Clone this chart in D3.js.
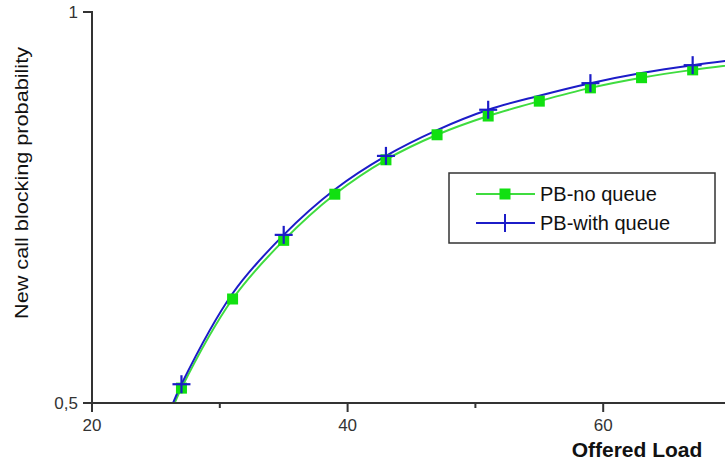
<!DOCTYPE html>
<html>
<head>
<meta charset="utf-8">
<script src="https://cdn.jsdelivr.net/npm/d3@7"></script>
<style>
  body { margin: 0; background: #fff; }
  svg { display: block; font-family: "Liberation Sans", Arial, sans-serif; }
</style>
</head>
<body>
<svg id="chart" width="725" height="466"></svg>
<script>
// offered load values (one green square at each)
const loads = [26, 27, 31, 35, 39, 43, 47, 51, 55, 59, 63, 67, 71];
const noQueue = [0.481, 0.519, 0.633, 0.708, 0.767, 0.811, 0.843, 0.867, 0.886, 0.903, 0.916, 0.926, 0.934];
const withQueue = [0.486, 0.524, 0.640, 0.715, 0.773, 0.816, 0.849, 0.875, 0.893, 0.909, 0.922, 0.932, 0.940];
// blue crosses only on every other point
const crossLoads = [27, 35, 43, 51, 59, 67];
const xMajorTicks = [20, 40, 60];
const xMinorTicks = [30, 50, 70];
const yTicks = [0.5, 1];
const yTickLabels = ["0,5", "1"];

const svg = d3.select("#chart");
const plotLeft = 92, plotTop = 12, plotBottom = 403;

const x = d3.scaleLinear().domain([20, 80]).range([plotLeft, plotLeft + 60 * 12.78]);
const y = d3.scaleLinear().domain([0.5, 1]).range([plotBottom, plotTop]);

svg.append("clipPath").attr("id", "plotclip")
  .append("rect").attr("x", plotLeft).attr("y", 0).attr("width", 725 - plotLeft).attr("height", plotBottom);

const axisColor = "#333";

// lines
const line = d3.line().x(d => x(d[0])).y(d => y(d[1])).curve(d3.curveCatmullRom);
const green = "#3fdc3f", blue = "#1c1cc8";

const plot = svg.append("g").attr("clip-path", "url(#plotclip)");
plot.append("path")
  .datum(loads.map((l, i) => [l, noQueue[i]]))
  .attr("d", line).attr("fill", "none").attr("stroke", green).attr("stroke-width", 2);
plot.append("path")
  .datum(loads.map((l, i) => [l, withQueue[i]]))
  .attr("d", line).attr("fill", "none").attr("stroke", blue).attr("stroke-width", 2);

// markers
const sq = 11;
plot.selectAll("rect.sq")
  .data(loads.map((l, i) => [l, noQueue[i]]).filter(d => d[1] >= 0.5))
  .join("rect").attr("class", "sq")
  .attr("x", d => x(d[0]) - sq / 2).attr("y", d => y(d[1]) - sq / 2)
  .attr("width", sq).attr("height", sq).attr("fill", "#11e011");

const cr = 9;
const crosses = plot.selectAll("g.cr")
  .data(crossLoads.map(l => [l, withQueue[loads.indexOf(l)]]))
  .join("g").attr("class", "cr")
  .attr("transform", d => `translate(${x(d[0])},${y(d[1])})`);
crosses.append("line").attr("x1", -cr).attr("x2", cr).attr("stroke", blue).attr("stroke-width", 2.2);
crosses.append("line").attr("y1", -cr).attr("y2", cr).attr("stroke", blue).attr("stroke-width", 2.2);

// axes
svg.append("line").attr("x1", plotLeft).attr("x2", 725).attr("y1", plotBottom).attr("y2", plotBottom)
  .attr("stroke", axisColor).attr("stroke-width", 2);
svg.append("line").attr("x1", plotLeft).attr("x2", plotLeft).attr("y1", plotTop - 1).attr("y2", plotBottom + 1)
  .attr("stroke", axisColor).attr("stroke-width", 2);

svg.selectAll("line.xmaj").data(xMajorTicks).join("line").attr("class", "xmaj")
  .attr("x1", d => x(d)).attr("x2", d => x(d)).attr("y1", plotBottom).attr("y2", plotBottom + 9)
  .attr("stroke", axisColor).attr("stroke-width", 2);
svg.selectAll("line.xmin").data(xMinorTicks).join("line").attr("class", "xmin")
  .attr("x1", d => x(d)).attr("x2", d => x(d)).attr("y1", plotBottom).attr("y2", plotBottom + 5)
  .attr("stroke", axisColor).attr("stroke-width", 2);
svg.selectAll("text.xl").data(xMajorTicks).join("text").attr("class", "xl")
  .attr("x", d => x(d)).attr("y", plotBottom + 28).attr("text-anchor", "middle")
  .attr("font-size", 17).attr("fill", "#333").text(d => d);

svg.selectAll("line.yt").data(yTicks).join("line").attr("class", "yt")
  .attr("x1", plotLeft - 9).attr("x2", plotLeft).attr("y1", d => y(d)).attr("y2", d => y(d))
  .attr("stroke", axisColor).attr("stroke-width", 2);
svg.selectAll("text.yl").data(yTicks).join("text").attr("class", "yl")
  .attr("x", plotLeft - 14).attr("y", d => y(d) + 6).attr("text-anchor", "end")
  .attr("font-size", 17).attr("fill", "#333").text((d, i) => yTickLabels[i]);

// axis titles
svg.append("text").attr("x", 637).attr("y", 457).attr("text-anchor", "middle")
  .attr("font-size", 21).attr("font-weight", "bold").attr("fill", "#111").text("Offered Load");
svg.append("text").attr("transform", "translate(28,183) rotate(-90)").attr("text-anchor", "middle")
  .attr("font-size", 19).attr("fill", "#111")
  .attr("textLength", 272).attr("lengthAdjust", "spacingAndGlyphs")
  .text("New call blocking probability");

// legend
const lg = svg.append("g").attr("transform", "translate(449,173)");
lg.append("rect").attr("width", 266).attr("height", 70).attr("fill", "#fff")
  .attr("stroke", "#333").attr("stroke-width", 1.5);
const items = [
  { name: "PB-no queue", color: green, mark: "sq" },
  { name: "PB-with queue", color: blue, mark: "cr" }
];
items.forEach((it, i) => {
  const gy = 21 + i * 29;
  lg.append("line").attr("x1", 27).attr("x2", 86).attr("y1", gy).attr("y2", gy)
    .attr("stroke", it.color).attr("stroke-width", 2);
  if (it.mark === "sq") {
    lg.append("rect").attr("x", 56 - 5.5).attr("y", gy - 5.5).attr("width", 11).attr("height", 11).attr("fill", "#11e011");
  } else {
    lg.append("line").attr("x1", 56).attr("x2", 56).attr("y1", gy - 9).attr("y2", gy + 9)
      .attr("stroke", it.color).attr("stroke-width", 2);
  }
  lg.append("text").attr("x", 91).attr("y", gy + 7).attr("font-size", 20).attr("fill", "#111").text(it.name);
});
</script>
</body>
</html>
